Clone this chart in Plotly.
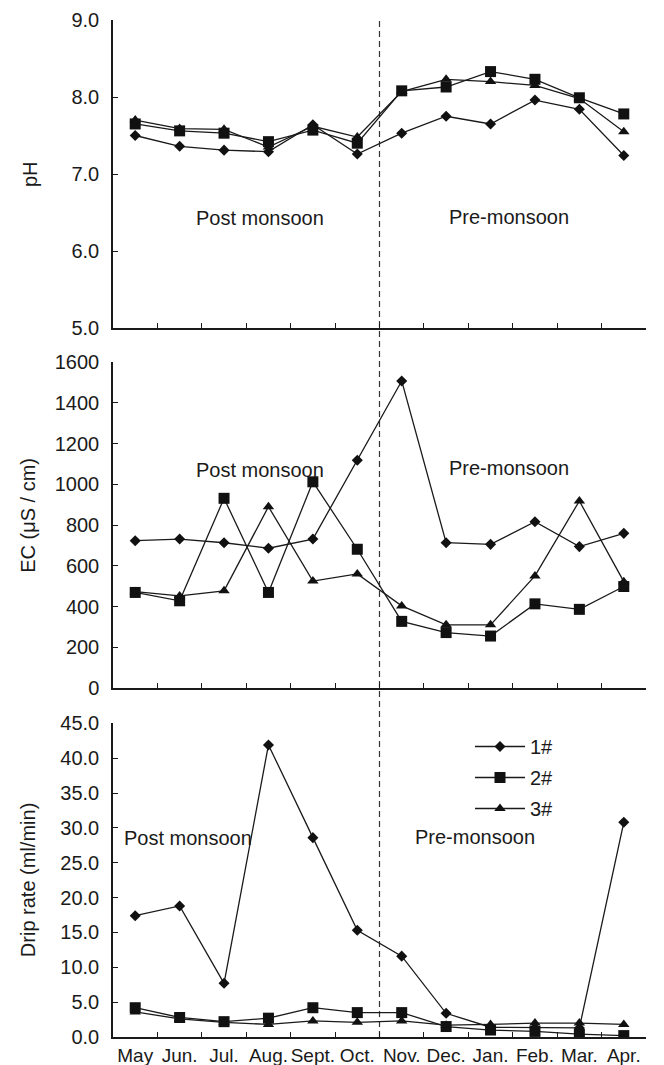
import plotly.graph_objects as go
from plotly.subplots import make_subplots

months = ["May", "Jun.", "Jul.", "Aug.", "Sept.", "Oct.", "Nov.", "Dec.", "Jan.", "Feb.", "Mar.", "Apr."]
sites = ["1#", "2#", "3#"]

ph_1 = [7.50, 7.36, 7.31, 7.29, 7.64, 7.26, 7.53, 7.75, 7.65, 7.96, 7.84, 7.24]
ph_2 = [7.65, 7.56, 7.53, 7.42, 7.57, 7.40, 8.08, 8.13, 8.33, 8.23, 7.99, 7.78]
ph_3 = [7.70, 7.59, 7.58, 7.35, 7.62, 7.48, 8.07, 8.23, 8.20, 8.15, 7.98, 7.55]

ec_1 = [723, 731, 713, 686, 731, 1118, 1507, 713, 705, 816, 694, 759]
ec_2 = [469, 428, 931, 469, 1012, 681, 327, 272, 255, 413, 386, 498]
ec_3 = [473, 452, 477, 890, 525, 560, 403, 310, 310, 550, 918, 522]

drip_1 = [17.4, 18.8, 7.7, 41.9, 28.6, 15.3, 11.6, 3.4, 1.4, 1.3, 1.3, 30.8]
drip_2 = [4.2, 2.8, 2.2, 2.7, 4.2, 3.5, 3.5, 1.5, 1.0, 0.8, 0.4, 0.2]
drip_3 = [3.6, 2.6, 2.1, 1.8, 2.3, 2.1, 2.3, 1.7, 1.8, 2.0, 2.0, 1.8]

ph_ticks = [5.0, 6.0, 7.0, 8.0, 9.0]
ec_ticks = [0, 200, 400, 600, 800, 1000, 1200, 1400, 1600]
drip_ticks = [0, 5, 10, 15, 20, 25, 30, 35, 40, 45]

FONT = "Liberation Sans, Arial, Helvetica, sans-serif"
INK = "#1a1a1a"

symbols = {"1#": ("diamond", 8.5), "2#": ("square", 11), "3#": ("triangle-up", 10)}

fig = make_subplots(rows=3, cols=1, vertical_spacing=0.03)

panels = [
    (1, [ph_1, ph_2, ph_3]),
    (2, [ec_1, ec_2, ec_3]),
    (3, [drip_1, drip_2, drip_3]),
]
for row, series in panels:
    for name, vals in zip(sites, series):
        sym, sz = symbols[name]
        fig.add_trace(
            go.Scatter(
                x=months, y=vals, name=name, mode="lines+markers",
                line=dict(color=INK, width=1.3),
                marker=dict(symbol=sym, size=sz, color="#111111",
                            line=dict(width=0)),
                legendgroup=name, showlegend=(row == 3),
            ),
            row=row, col=1,
        )

H = 1065
top_m, bot_m = 20, 28
ph_h = H - top_m - bot_m


def dom(y_top_px, y_bot_px):
    base = H - bot_m
    return [(base - y_bot_px) / ph_h, (base - y_top_px) / ph_h]


domains = [dom(20, 328), dom(362, 688), dom(723.3, 1037)]

for i, d in enumerate(domains, start=1):
    fig.update_yaxes(domain=d, row=i, col=1)

xcommon = dict(
    type="category", categoryorder="array", categoryarray=months,
    range=[-0.5, 11.5], tickson="boundaries", ticks="inside", ticklen=5,
    tickcolor=INK, tickwidth=1.3, showline=True, linecolor=INK, linewidth=1.5,
    showgrid=False, zeroline=False, tickangle=0, automargin=False,
    tickfont=dict(family=FONT, size=19, color=INK),
)
fig.update_xaxes(**xcommon)
fig.update_xaxes(showticklabels=False, row=1, col=1)
fig.update_xaxes(showticklabels=False, row=2, col=1)

ycommon = dict(
    ticks="inside", ticklen=5, tickcolor=INK, tickwidth=1.3,
    showline=True, linecolor=INK, linewidth=1.5, showgrid=False,
    zeroline=False, ticklabelstandoff=8, automargin=False,
    tickfont=dict(family=FONT, size=20, color=INK),
)
fig.update_yaxes(**ycommon)
fig.update_yaxes(range=[5, 9], tickvals=ph_ticks, ticktext=[f"{v:.1f}" for v in ph_ticks], row=1, col=1)
fig.update_yaxes(range=[0, 1600], tickvals=ec_ticks, ticktext=[str(v) for v in ec_ticks], row=2, col=1)
fig.update_yaxes(range=[0, 45], tickvals=drip_ticks, ticktext=[f"{v:.1f}" for v in drip_ticks], row=3, col=1)

# dashed season divider
fig.add_shape(type="line", xref="x3", x0=5.5, x1=5.5, yref="paper", y0=0, y1=1,
              line=dict(color="#333333", width=1.2, dash="6px,4px"), layer="below")

afont = dict(family=FONT, size=20, color=INK)
season_notes = [
    ("x", "y", 2.81, 6.43, "Post monsoon"),
    ("x", "y", 8.42, 6.44, "Pre-monsoon"),
    ("x2", "y2", 2.81, 1070, "Post monsoon"),
    ("x2", "y2", 8.42, 1080, "Pre-monsoon"),
    ("x3", "y3", 1.19, 28.6, "Post monsoon"),
    ("x3", "y3", 7.65, 28.7, "Pre-monsoon"),
]
for xr, yr, xv, yv, txt in season_notes:
    fig.add_annotation(xref=xr, yref=yr, x=xv, y=yv, text=txt, showarrow=False,
                       font=afont, xanchor="center", yanchor="middle")

plot_w = 664 - 113 - 18
titles = [("y domain", 0.5, "pH", 30), ("y2 domain", 0.528, "EC (μS / cm)", 28),
          ("y3 domain", 0.5, "Drip rate (ml/min)", 28)]
for yr, yv, txt, px in titles:
    fig.add_annotation(xref="paper", yref=yr, x=(px - 113) / plot_w, y=yv, text=txt,
                       textangle=-90, showarrow=False, font=afont,
                       xanchor="center", yanchor="middle")

fig.update_layout(
    width=664, height=1065,
    margin=dict(l=113, r=18, t=top_m, b=bot_m, autoexpand=False),
    paper_bgcolor="white", plot_bgcolor="white",
    font=dict(family=FONT, size=20, color=INK),
    showlegend=True,
    legend=dict(x=(470 - 113) / plot_w, y=(1037 - 727) / ph_h, xanchor="left", yanchor="top",
                bgcolor="rgba(0,0,0,0)", font=dict(family=FONT, size=20, color=INK),
                tracegroupgap=2, itemwidth=50),
)

fig.write_html("out.html")
